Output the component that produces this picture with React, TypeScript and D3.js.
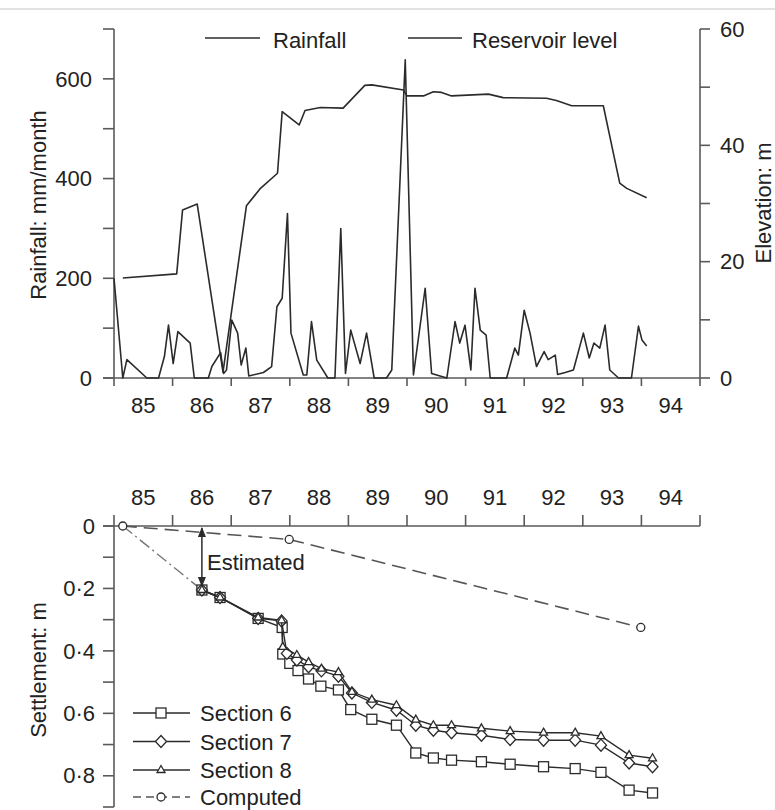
import React from "react";
import * as d3 from "d3";

const FONT = "'Liberation Sans', Arial, sans-serif";
const INK = "#2b2b2b";
const AXIS = "#5a5a5a";

// ---------- data ----------
const yearTicks = [85, 86, 87, 88, 89, 90, 91, 92, 93, 94, 95];
const yearLabels = [85, 86, 87, 88, 89, 90, 91, 92, 93, 94];
const rainTicks = [0, 100, 200, 300, 400, 500, 600, 700];
const rainLabels = [0, 200, 400, 600];
const elevTicks = [0, 10, 20, 30, 40, 50, 60];
const elevLabels = [0, 20, 40, 60];
const settleTicks = [0, 0.1, 0.2, 0.3, 0.4, 0.5, 0.6, 0.7, 0.8, 0.9];
const settleLabels = [0, 0.2, 0.4, 0.6, 0.8];

// rainfall, mm/month  [year, value]
const rainfall: [number, number][] = [
  [85.0, 200], [85.15, 0], [85.22, 37], [85.56, 0], [85.76, 0], [85.86, 43], [85.93, 106],
  [86.01, 29], [86.09, 93], [86.3, 70], [86.37, 0], [86.61, 0], [86.67, 23], [86.82, 51],
  [86.87, 9], [86.92, 16], [87.01, 116], [87.11, 90], [87.17, 26], [87.25, 60], [87.3, 4],
  [87.55, 11], [87.69, 23], [87.78, 143], [87.87, 160], [87.96, 330], [88.02, 90],
  [88.23, 6], [88.29, 6], [88.37, 113], [88.46, 36], [88.65, 0], [88.77, 0], [88.87, 300],
  [88.95, 9], [89.04, 96], [89.2, 29], [89.31, 90], [89.44, 0], [89.65, 0], [89.74, 16],
  [89.97, 638], [90.11, 6], [90.31, 180], [90.42, 9], [90.68, 0], [90.82, 113], [90.9, 70],
  [90.99, 106], [91.09, 16], [91.16, 180], [91.25, 96], [91.35, 86], [91.42, 0], [91.7, 0],
  [91.84, 60], [91.9, 46], [92.0, 136], [92.1, 90], [92.21, 23], [92.34, 53], [92.41, 37],
  [92.53, 46], [92.57, 7], [92.7, 11], [92.84, 16], [93.01, 90], [93.11, 40], [93.19, 70],
  [93.29, 60], [93.38, 106], [93.46, 16], [93.61, 0], [93.83, 0], [93.95, 104], [94.01, 76],
  [94.09, 64],
];

// reservoir level, m  [year, value]
const reservoir: [number, number][] = [
  [85.15, 17.2], [86.07, 17.9], [86.17, 28.9], [86.42, 29.9], [86.86, 1.0], [87.26, 29.6],
  [87.49, 32.5], [87.79, 35.2], [87.87, 45.8], [88.16, 43.5], [88.26, 46.0], [88.52, 46.5],
  [88.91, 46.4], [89.28, 50.3], [89.4, 50.4], [89.94, 49.5], [90.0, 48.5], [90.28, 48.5],
  [90.45, 49.2], [90.59, 49.1], [90.76, 48.5], [91.39, 48.8], [91.64, 48.2], [92.38, 48.1],
  [92.55, 47.7], [92.81, 46.8], [93.35, 46.8], [93.63, 33.5], [93.75, 32.6], [94.09, 31.0],
];

// settlement, m  [year, value]
const section6: [number, number][] = [
  [86.5, 0.205], [86.81, 0.229], [87.46, 0.296], [87.87, 0.325], [87.88, 0.41], [88.0, 0.44],
  [88.14, 0.463], [88.32, 0.49], [88.53, 0.513], [88.83, 0.525], [89.04, 0.588], [89.4, 0.619],
  [89.82, 0.638], [90.15, 0.727], [90.45, 0.743], [90.76, 0.75], [91.27, 0.755], [91.76, 0.763],
  [92.33, 0.771], [92.87, 0.777], [93.31, 0.789], [93.79, 0.846], [94.19, 0.855],
];
const section7: [number, number][] = [
  [86.5, 0.205], [86.81, 0.229], [87.46, 0.296], [87.86, 0.304], [87.95, 0.408], [88.12, 0.429],
  [88.32, 0.451], [88.54, 0.464], [88.83, 0.481], [89.06, 0.535], [89.4, 0.565], [89.82, 0.59],
  [90.15, 0.638], [90.45, 0.654], [90.76, 0.662], [91.27, 0.67], [91.76, 0.684], [92.33, 0.686],
  [92.87, 0.686], [93.31, 0.702], [93.79, 0.759], [94.19, 0.771],
];
const section8: [number, number][] = [
  [86.5, 0.205], [86.81, 0.229], [87.46, 0.293], [87.86, 0.302], [87.88, 0.387], [88.12, 0.413],
  [88.32, 0.436], [88.54, 0.457], [88.83, 0.468], [89.06, 0.531], [89.4, 0.556], [89.82, 0.574],
  [90.15, 0.62], [90.45, 0.638], [90.76, 0.638], [91.27, 0.648], [91.76, 0.657], [92.33, 0.662],
  [92.87, 0.662], [93.31, 0.673], [93.79, 0.734], [94.19, 0.744],
];
const computed: [number, number][] = [[85.15, 0], [87.99, 0.043], [93.99, 0.325]];
const estimated: [number, number][] = [[85.15, 0], [86.5, 0.205]];
const estimateYear = 86.5;

const legendTop = ["Rainfall", "Reservoir level"];
const legendBottom = ["Section 6", "Section 7", "Section 8", "Computed"];

// ---------- scales ----------
const x = d3.scaleLinear().domain([85, 95]).range([114, 700]);
const yRain = d3.scaleLinear().domain([0, 700]).range([378, 29]);
const yElev = d3.scaleLinear().domain([0, 60]).range([378, 29]);
const yS = d3.scaleLinear().domain([0, 0.9]).range([526, 807]);

const rainLine = d3.line<[number, number]>().x((d) => x(d[0])).y((d) => yRain(d[1]));
const elevLine = d3.line<[number, number]>().x((d) => x(d[0])).y((d) => yElev(d[1]));
const sLine = d3.line<[number, number]>().x((d) => x(d[0])).y((d) => yS(d[1]));

const fmtS = (v: number) => (v === 0 ? "0" : v.toFixed(1).replace(".", "\u00B7"));

type Kind = "square" | "diamond" | "triangle" | "circle";

function Marker({ cx, cy, kind }: { cx: number; cy: number; kind: Kind }) {
  const common = { fill: "#fff", stroke: INK, strokeWidth: 1.3 };
  if (kind === "square") return <rect x={cx - 5} y={cy - 5} width={10} height={10} {...common} />;
  if (kind === "diamond")
    return <polygon points={`${cx},${cy - 6} ${cx + 5.5},${cy} ${cx},${cy + 6} ${cx - 5.5},${cy}`} {...common} />;
  if (kind === "triangle")
    return <polygon points={`${cx},${cy - 4.5} ${cx + 4},${cy + 2.5} ${cx - 4},${cy + 2.5}`} {...common} />;
  return <circle cx={cx} cy={cy} r={4} {...common} />;
}

export default function App() {
  const series: { data: [number, number][]; kind: Kind }[] = [
    { data: section6, kind: "square" },
    { data: section7, kind: "diamond" },
    { data: section8, kind: "triangle" },
  ];
  const ax = { stroke: AXIS, strokeWidth: 1.6 };
  const txt = { fontFamily: FONT, fontSize: 22, fill: "#222" };
  const legRows = [713, 741.5, 770, 797];
  const legKinds: Kind[] = ["square", "diamond", "triangle", "circle"];

  return (
    <svg
      width={775}
      height={810}
      style={{ position: "absolute", left: 0, top: 0, background: "#fff" }}
    >
      <defs>
        <marker id="ah" viewBox="0 0 10 10" refX="9" refY="5" markerWidth="7" markerHeight="7" orient="auto-start-reverse">
          <path d="M0,1 L10,5 L0,9 z" fill={INK} />
        </marker>
      </defs>
      <rect x={0} y={0} width={775} height={810} fill="#fff" />
      <line x1={0} x2={775} y1={9} y2={9} stroke="#e2e2e2" strokeWidth={2} />

      {/* ===== top chart ===== */}
      <line x1={x(85)} x2={x(85)} y1={yRain(700)} y2={yRain(0)} {...ax} />
      <line x1={x(95)} x2={x(95)} y1={yElev(60)} y2={yElev(0)} {...ax} />
      <line x1={103} x2={x(95)} y1={yRain(0)} y2={yRain(0)} {...ax} />
      {rainTicks.map((t) => (
        <line key={"rt" + t} x1={103} x2={x(85)} y1={yRain(t)} y2={yRain(t)} {...ax} />
      ))}
      {rainLabels.map((t) => (
        <text key={"rl" + t} x={92} y={yRain(t)} dy="0.35em" textAnchor="end" {...txt}>{t}</text>
      ))}
      {elevTicks.map((t) => (
        <line key={"et" + t} x1={x(95)} x2={x(95) + 10} y1={yElev(t)} y2={yElev(t)} {...ax} />
      ))}
      {elevLabels.map((t) => (
        <text key={"el" + t} x={720} y={yElev(t)} dy="0.35em" textAnchor="start" {...txt}>{t}</text>
      ))}
      {yearTicks.map((t) => (
        <line key={"xt" + t} x1={x(t)} x2={x(t)} y1={yRain(0)} y2={yRain(0) + 8} {...ax} />
      ))}
      {yearLabels.map((t) => (
        <text key={"xl" + t} x={x(t + 0.5)} y={413} textAnchor="middle" {...txt}>{t}</text>
      ))}
      <text transform="translate(46,205) rotate(-90)" textAnchor="middle" {...txt}>Rainfall: mm/month</text>
      <text transform="translate(771,203) rotate(-90)" textAnchor="middle" {...txt}>Elevation: m</text>

      <path d={elevLine(reservoir) || ""} fill="none" stroke={INK} strokeWidth={1.6} strokeLinejoin="round" />
      <path d={rainLine(rainfall) || ""} fill="none" stroke={INK} strokeWidth={1.6} strokeLinejoin="round" />

      <line x1={205} x2={260} y1={38} y2={38} stroke={INK} strokeWidth={1.6} />
      <text x={273} y={48} {...txt}>{legendTop[0]}</text>
      <line x1={408} x2={462} y1={38} y2={38} stroke={INK} strokeWidth={1.6} />
      <text x={472} y={48} {...txt}>{legendTop[1]}</text>

      {/* ===== bottom chart ===== */}
      <line x1={103} x2={x(95)} y1={yS(0)} y2={yS(0)} {...ax} />
      <line x1={x(85)} x2={x(85)} y1={yS(0)} y2={yS(0.9)} {...ax} />
      {yearTicks.map((t) => (
        <line key={"bt" + t} x1={x(t)} x2={x(t)} y1={yS(0)} y2={yS(0) - 11} {...ax} />
      ))}
      {yearLabels.map((t) => (
        <text key={"bl" + t} x={x(t + 0.5)} y={505} textAnchor="middle" {...txt}>{t}</text>
      ))}
      {settleTicks.map((t) => (
        <line key={"st" + t} x1={103} x2={x(85)} y1={yS(t)} y2={yS(t)} {...ax} />
      ))}
      {settleLabels.map((t) => (
        <text key={"sl" + t} x={95} y={yS(t)} dy="0.35em" textAnchor="end" {...txt}>{fmtS(t)}</text>
      ))}
      <text transform="translate(46,670) rotate(-90)" textAnchor="middle" {...txt}>Settlement: m</text>

      <path d={sLine(estimated) || ""} fill="none" stroke="#777" strokeWidth={1.4} strokeDasharray="12,4,2,4" />
      <path d={sLine(computed) || ""} fill="none" stroke="#555" strokeWidth={1.6} strokeDasharray="14,7" />
      {computed.map((d, i) => (
        <Marker key={"c" + i} cx={x(d[0])} cy={yS(d[1])} kind="circle" />
      ))}

      {series.map((s, si) => (
        <g key={"s" + si}>
          <path d={sLine(s.data) || ""} fill="none" stroke={INK} strokeWidth={1.4} />
          {s.data.map((d, i) => (
            <Marker key={i} cx={x(d[0])} cy={yS(d[1])} kind={s.kind} />
          ))}
        </g>
      ))}

      <line
        x1={x(estimateYear)}
        x2={x(estimateYear)}
        y1={yS(0) + 2}
        y2={yS(0.205) - 4}
        stroke={INK}
        strokeWidth={1.5}
        markerStart="url(#ah)"
        markerEnd="url(#ah)"
      />
      <text x={207} y={570} {...txt}>Estimated</text>

      {legendBottom.map((name, i) => (
        <g key={"lg" + i}>
          <line
            x1={133}
            x2={190}
            y1={legRows[i]}
            y2={legRows[i]}
            stroke={i === 3 ? "#555" : INK}
            strokeWidth={1.5}
            strokeDasharray={i === 3 ? "8,5" : undefined}
          />
          <Marker cx={161} cy={legRows[i]} kind={legKinds[i]} />
          <text x={200} y={legRows[i] + 8} {...txt}>{name}</text>
        </g>
      ))}
    </svg>
  );
}
